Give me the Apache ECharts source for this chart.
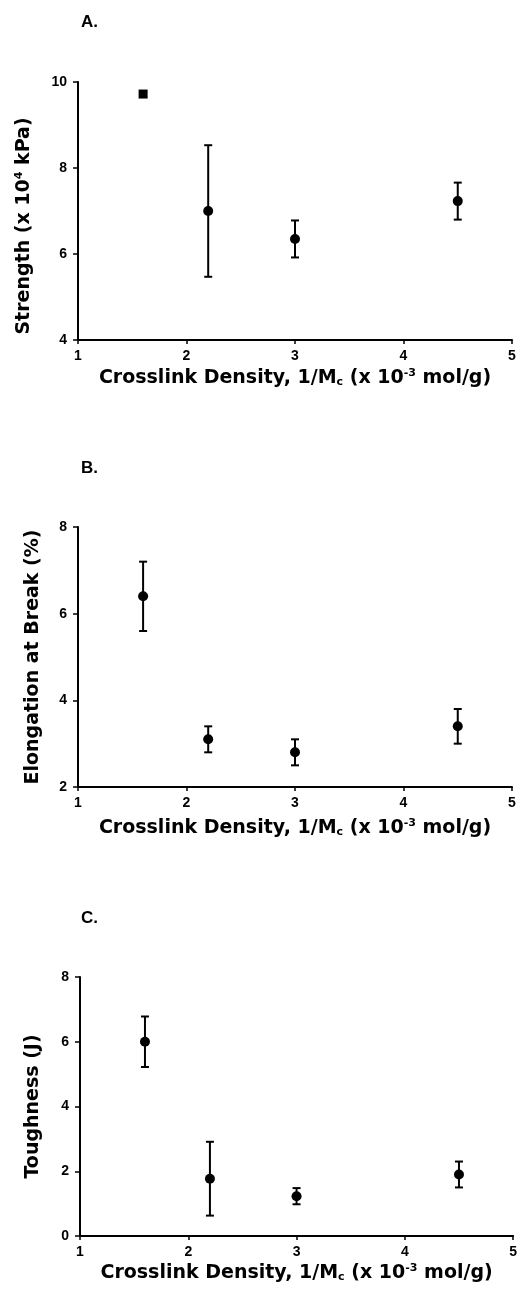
<!DOCTYPE html>
<html>
<head>
<meta charset="utf-8">
<script src="https://cdn.jsdelivr.net/npm/echarts@6/dist/echarts.min.js"></script>
<style>
  html, body { margin: 0; padding: 0; background: #fff; }
  #chart { width: 520px; height: 1291px; }
</style>
</head>
<body>
<div id="chart"></div>
<script>
// ---- data ----
const crosslinkDensity = [1.6, 2.2, 3.0, 4.5];

const strength      = [9.72, 7.0, 6.35, 7.23];
const strengthErr   = [0.06, 1.53, 0.43, 0.43];
const strengthMarkers = ['rect', 'circle', 'circle', 'circle'];

const elongation    = [6.4, 3.1, 2.8, 3.4];
const elongationErr = [0.8, 0.3, 0.3, 0.4];

const toughness     = [6.0, 1.77, 1.23, 1.9];
const toughnessErr  = [0.78, 1.14, 0.25, 0.4];

const xTicks = [1, 2, 3, 4, 5];
const panelLabels = ['A.', 'B.', 'C.'];

// ---- chart ----
const FONT = '"Liberation Sans", Arial, sans-serif';
const TFONT = '"DejaVu Sans", sans-serif';
const TSIZE = 19;
const chart = echarts.init(document.getElementById('chart'), null, { renderer: 'canvas' });

const grids = [
  { left: 78, top: 82, width: 434, height: 258 },
  { left: 78, top: 527, width: 434, height: 260 },
  { left: 80, top: 977, width: 434, height: 259 }
];

const xNameRich = {
  base: { fontFamily: TFONT, fontSize: TSIZE, color: '#000', fontWeight: 'bold' },
  sub: { fontFamily: TFONT, fontSize: 11, color: '#000', fontWeight: 'bold', verticalAlign: 'bottom', padding: [9, 0, 0, 0] },
  sup: { fontFamily: TFONT, fontSize: 11, color: '#000', fontWeight: 'bold', verticalAlign: 'top', padding: [0, 0, 9, 0] }
};

function xAxis(gridIndex, gap) {
  return {
    type: 'value', gridIndex, min: 1, max: 5, interval: 1,
    name: '{base|Crosslink Density, 1/M}{sub|c}{base| (x 10}{sup|-3}{base| mol/g)}',
    nameLocation: 'middle', nameGap: gap,
    nameTextStyle: { rich: xNameRich },
    axisLine: { onZero: false, lineStyle: { color: '#000', width: 2 } },
    axisTick: { show: true, length: 4, lineStyle: { color: '#000', width: 1.5 } },
    axisLabel: { color: '#000', fontFamily: FONT, fontWeight: 'bold', fontSize: 14, margin: 9,
                 formatter: v => xTicks.includes(v) ? String(v) : '' },
    splitLine: { show: false }
  };
}

function yAxis(gridIndex, min, max, interval, name, gap, rich, padding) {
  return {
    type: 'value', gridIndex, min, max, interval,
    name, nameLocation: 'middle', nameGap: gap, nameRotate: 90,
    nameTextStyle: Object.assign({ color: '#000', fontFamily: TFONT, fontWeight: 'bold', fontSize: TSIZE, padding: padding || 0 },
                                  rich ? { rich } : {}),
    axisLine: { onZero: false, lineStyle: { color: '#000', width: 2 } },
    axisTick: { show: true, length: 5, lineStyle: { color: '#000', width: 1.5 } },
    axisLabel: { color: '#000', fontFamily: FONT, fontWeight: 'bold', fontSize: 14, margin: 11 },
    splitLine: { show: false }
  };
}

const yRich = {
  base: { fontFamily: TFONT, fontSize: TSIZE, color: '#000', fontWeight: 'bold' },
  sup: { fontFamily: TFONT, fontSize: 11, color: '#000', fontWeight: 'bold', verticalAlign: 'top', padding: [0, 0, 9, 0] }
};

function errorSeries(idx, vals, errs) {
  return {
    type: 'custom', xAxisIndex: idx, yAxisIndex: idx, silent: true, z: 2,
    data: crosslinkDensity.map((x, i) => [x, vals[i] - errs[i], vals[i] + errs[i]]),
    renderItem: function (params, api) {
      const lo = api.coord([api.value(0), api.value(1)]);
      const hi = api.coord([api.value(0), api.value(2)]);
      const cap = 4;
      const style = { stroke: '#000', lineWidth: 2 };
      return {
        type: 'group',
        children: [
          { type: 'line', shape: { x1: lo[0], y1: lo[1], x2: hi[0], y2: hi[1] }, style },
          { type: 'line', shape: { x1: lo[0] - cap, y1: lo[1], x2: lo[0] + cap, y2: lo[1] }, style },
          { type: 'line', shape: { x1: hi[0] - cap, y1: hi[1], x2: hi[0] + cap, y2: hi[1] }, style }
        ]
      };
    }
  };
}

function pointSeries(idx, vals, markers) {
  return {
    type: 'scatter', xAxisIndex: idx, yAxisIndex: idx, z: 3,
    symbolSize: 10,
    itemStyle: { color: '#000', opacity: 1 },
    data: crosslinkDensity.map((x, i) => markers
      ? { value: [x, vals[i]], symbol: markers[i], symbolSize: markers[i] === 'rect' ? 9 : 10 }
      : [x, vals[i]])
  };
}

const option = {
  backgroundColor: '#fff',
  animation: false,
  title: panelLabels.map((t, i) => ({
    text: t, left: 76, top: [9, 455, 905][i],
    textStyle: { color: '#000', fontFamily: FONT, fontWeight: 'bold', fontSize: 17 }
  })),
  grid: grids,
  xAxis: [xAxis(0, 28), xAxis(1, 31), xAxis(2, 27)],
  yAxis: [
    yAxis(0, 4, 10, 2, '{base|Strength (x 10}{sup|4}{base| kPa)}', 44, yRich, [0, 30, 0, 0]),
    yAxis(1, 2, 8, 2, 'Elongation at Break (%)', 35),
    yAxis(2, 0, 8, 2, 'Toughness (J)', 37)
  ],
  series: [
    errorSeries(0, strength, strengthErr),
    pointSeries(0, strength, strengthMarkers),
    errorSeries(1, elongation, elongationErr),
    pointSeries(1, elongation),
    errorSeries(2, toughness, toughnessErr),
    pointSeries(2, toughness)
  ]
};

chart.setOption(option);
</script>
</body>
</html>
